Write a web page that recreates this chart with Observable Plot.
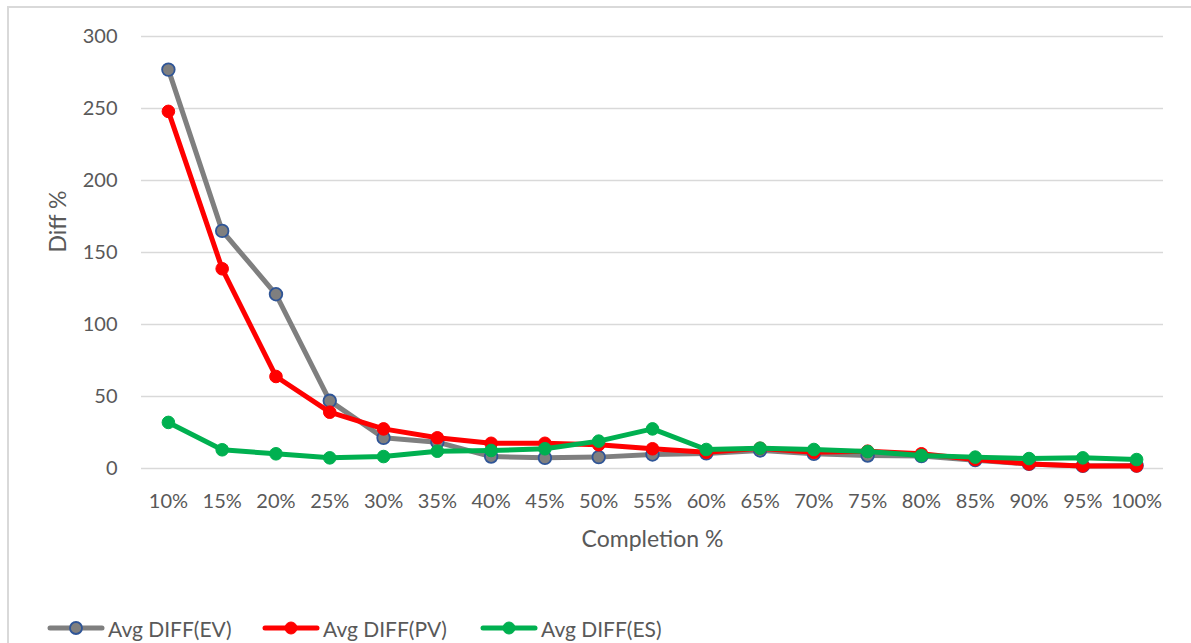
<!DOCTYPE html>
<html>
<head>
<meta charset="utf-8">
<script src="https://cdn.jsdelivr.net/npm/d3@7"></script>
<script src="https://cdn.jsdelivr.net/npm/@observablehq/plot@0.6"></script>
<style>
  html, body { margin: 0; padding: 0; background: #fff; }
  body { width: 1191px; height: 643px; overflow: hidden; position: relative; font-family: Lato, "Open Sans", sans-serif; }
  #frame { position: absolute; left: 7px; top: 6px; width: 1200px; height: 700px; border-left: 2px solid #d9d9d9; border-top: 2px solid #d9d9d9; box-sizing: border-box; }
  #chart { position: absolute; left: 0; top: 0; }
  #legend { position: absolute; left: 0; top: 614px; height: 28px; width: 1191px; font-size: 21px; color: #595959; }
  .item { position: absolute; top: 0; display: flex; align-items: center; height: 28px; }
  .item svg { margin-right: 3px; }
</style>
</head>
<body>
<div id="frame"></div>
<div id="chart"></div>
<div id="legend"></div>
<script>
const categories = ["10%","15%","20%","25%","30%","35%","40%","45%","50%","55%","60%","65%","70%","75%","80%","85%","90%","95%","100%"];
const seriesNames = ["Avg DIFF(EV)", "Avg DIFF(PV)", "Avg DIFF(ES)"];
const ev = [277, 165, 121, 47, 21.3, 18.3, 8.3, 7.4, 7.9, 9.7, 10.5, 12.5, 10.2, 9.0, 8.6, 5.8, 3.2, 1.8, 2.0];
const pv = [248, 138.7, 63.9, 39.1, 27.5, 21.3, 17.5, 17.5, 16.5, 13.7, 11.3, 14.0, 11.3, 12.0, 10.2, 6.2, 3.2, 1.8, 1.8];
const es = [32, 13, 10.2, 7.4, 8.3, 12, 12.5, 13.7, 19, 27.5, 13.2, 14.1, 13.2, 11.8, 9.0, 7.9, 6.9, 7.4, 6.2];
const yTicks = [0, 50, 100, 150, 200, 250, 300];

const styles = [
  {stroke: "#7f7f7f", fill: "#7f7f7f", markerStroke: "#2f5597"},
  {stroke: "#ff0000", fill: "#ff0000", markerStroke: "#ff0000"},
  {stroke: "#00b050", fill: "#00b050", markerStroke: "#00b050"}
];
const allSeries = [ev, pv, es];
const data = [];
allSeries.forEach((vals, s) => vals.forEach((v, i) => data.push({series: seriesNames[s], cat: categories[i], value: v})));

const marks = [
  Plot.ruleY(yTicks, {stroke: "#d9d9d9", strokeWidth: 1.5})
];
seriesNames.forEach((name, s) => {
  const d = data.filter(r => r.series === name);
  marks.push(Plot.line(d, {x: "cat", y: "value", stroke: styles[s].stroke, strokeWidth: 5, strokeLinejoin: "round", strokeLinecap: "round"}));
  marks.push(Plot.dot(d, {x: "cat", y: "value", r: 6.3, fill: styles[s].fill, stroke: styles[s].markerStroke, strokeWidth: s === 0 ? 1.8 : 1}));
});
marks.push(Plot.text(["Completion %"], {frameAnchor: "bottom", dy: 78, fontSize: 23, fill: "#595959"}));
marks.push(Plot.text(["Diff %"], {frameAnchor: "left", dx: -83, rotate: -90, fontSize: 23, fill: "#595959"}));

const chart = Plot.plot({
  width: 1191,
  height: 560,
  marginLeft: 141,
  marginRight: 28,
  marginTop: 36,
  marginBottom: 92,
  style: {fontFamily: "Lato, 'Open Sans', sans-serif", fontSize: "20px", color: "#595959", background: "transparent"},
  x: {type: "point", domain: categories, padding: 0.5, round: false, label: null, tickSize: 0, tickPadding: 25},
  y: {domain: [0, 300], ticks: yTicks, label: null, tickSize: 0, tickPadding: 24},
  marks
});
document.getElementById("chart").appendChild(chart);

// legend
const legend = document.getElementById("legend");
const legendX = [47, 262, 480];
seriesNames.forEach((name, s) => {
  const item = document.createElement("div");
  item.className = "item";
  item.style.left = legendX[s] + "px";
  item.innerHTML = `<svg width="58" height="28"><line x1="3" x2="55" y1="14" y2="14" stroke="${styles[s].stroke}" stroke-width="5" stroke-linecap="round"/><circle cx="29" cy="14" r="6" fill="${styles[s].fill}" stroke="${styles[s].markerStroke}" stroke-width="${s === 0 ? 1.8 : 1}"/></svg><span>${name}</span>`;
  legend.appendChild(item);
});
</script>
</body>
</html>
